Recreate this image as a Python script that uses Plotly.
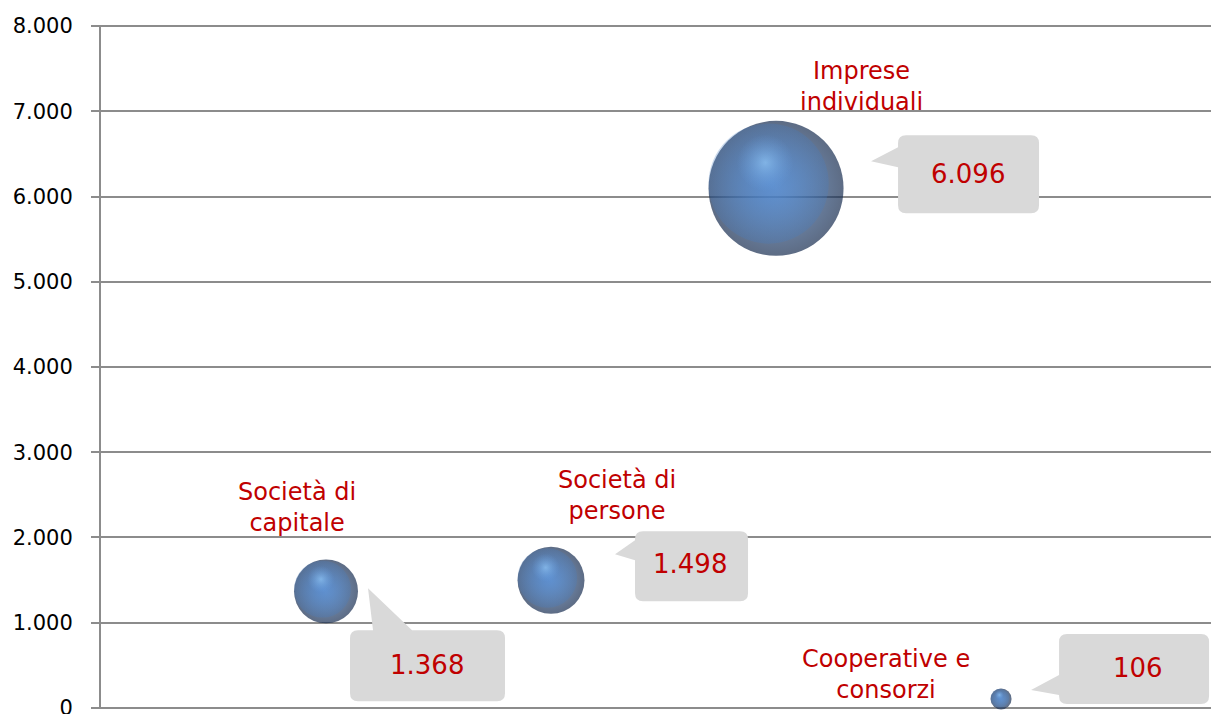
import plotly.graph_objects as go

# ---------------- data ----------------
categories = ["Società di capitale", "Società di persone", "Imprese individuali", "Cooperative e consorzi"]
name_labels = ["Società di<br>capitale", "Società di<br>persone", "Imprese<br>individuali", "Cooperative e<br>consorzi"]
x_pos = [1, 2, 3, 4]
values = [1368, 1498, 6096, 106]
y_ticks = [0, 1000, 2000, 3000, 4000, 5000, 6000, 7000, 8000]

# ---------------- layout constants ----------------
W, H = 1211, 714
ML, MR, MT, MB = 101, 0, 25, 5
X_RANGE = [0, 4.933]
Y_RANGE = [-12, 8012]
PX_X = (W - ML - MR) / (X_RANGE[1] - X_RANGE[0])
PX_Y = (H - MT - MB) / (Y_RANGE[1] - Y_RANGE[0])

RED = "#C00000"
GRID = "#8C8C8C"
BOX = "#D9D9D9"

# label placements (screen px offsets from each bubble, y downward)
name_off = [(-29, -84), (66, -85), (85, -102), (-115, -24)]
value_off = [(101, 74), (139, -16), (192, -14), (137, -31)]
# callout boxes: (x0, x1, y0, y1), tip, side, base range
callouts = [
    ((24, 179, 39, 110), (42, -3), "top", (47, 86)),
    ((84, 197, -49, 21), (64, -26), "left", (-40, -20)),
    ((122, 263, -53, 25), (95, -27), "left", (-41, -21)),
    ((58, 208, -65, 5), (30, -9), "left", (-24, -4)),
]

vmax = max(values)
diam = [max(21, 135 * (v / vmax) ** 0.5) for v in values]


def fmt(v):
    return f"{v:,}".replace(",", ".")


def callout_path(box, tip, side, base, r=8):
    x0, x1, y0, y1 = box

    def P(x, y):
        return f"{x},{-y}"

    s = f"M{P(x0 + r, y0)}"
    if side == "top":
        s += f" L{P(base[0], y0)} L{P(tip[0], tip[1])} L{P(base[1], y0)}"
    s += f" L{P(x1 - r, y0)} Q{P(x1, y0)} {P(x1, y0 + r)}"
    s += f" L{P(x1, y1 - r)} Q{P(x1, y1)} {P(x1 - r, y1)}"
    s += f" L{P(x0 + r, y1)} Q{P(x0, y1)} {P(x0, y1 - r)}"
    if side == "left":
        s += f" L{P(x0, base[1])} L{P(tip[0], tip[1])} L{P(x0, base[0])}"
    s += f" L{P(x0, y0 + r)} Q{P(x0, y0)} {P(x0 + r, y0)} Z"
    return s


def shifted(fx, fy):
    xs = [x + fx * d / PX_X for x, d in zip(x_pos, diam)]
    ys = [v - fy * d / PX_Y for v, d in zip(values, diam)]
    return xs, ys


fig = go.Figure()

# dark rim layer
fig.add_trace(go.Scatter(
    x=x_pos, y=values, mode="markers", cliponaxis=False, hoverinfo="skip",
    text=categories,
    marker=dict(size=diam, sizemode="diameter", color="#182D50",
                gradient=dict(type="radial", color="#4578BA"),
                line=dict(width=0)),
    showlegend=False,
))
# main body, shifted up-left so the rim darkens right / bottom
bx, by = shifted(-0.055, -0.035)
fig.add_trace(go.Scatter(
    x=bx, y=by, mode="markers", cliponaxis=False, hoverinfo="skip",
    marker=dict(size=[0.89 * d for d in diam], color="rgba(70,124,192,0.4)",
                gradient=dict(type="radial", color="rgba(80,136,208,1)"),
                line=dict(width=0)),
    showlegend=False,
))
# highlight
hx, hy = shifted(-0.08, -0.19)
fig.add_trace(go.Scatter(
    x=hx, y=hy, mode="markers", cliponaxis=False, hoverinfo="skip",
    marker=dict(size=[0.42 * d for d in diam], color="rgba(110,165,230,0)",
                gradient=dict(type="radial", color="rgba(150,205,252,0.9)"),
                line=dict(width=0)),
    showlegend=False,
))

shapes = []
annotations = []
for i in range(len(values)):
    box, tip, side, base = callouts[i]
    shapes.append(dict(
        type="path", xref="x", yref="y", xsizemode="pixel", ysizemode="pixel",
        xanchor=x_pos[i], yanchor=values[i],
        path=callout_path(box, tip, side, base),
        fillcolor=BOX, line=dict(width=0), layer="above",
    ))
    annotations.append(dict(
        x=x_pos[i], y=values[i], xref="x", yref="y", showarrow=False,
        text=fmt(values[i]), xanchor="center", yanchor="middle",
        xshift=value_off[i][0], yshift=-value_off[i][1],
        font=dict(family="DejaVu Sans", size=26, color=RED),
    ))
    annotations.append(dict(
        x=x_pos[i], y=values[i], xref="x", yref="y", showarrow=False,
        text=name_labels[i], xanchor="center", yanchor="middle", align="center",
        xshift=name_off[i][0], yshift=-name_off[i][1],
        font=dict(family="DejaVu Sans", size=24, color=RED),
    ))

fig.update_layout(
    width=W, height=H,
    margin=dict(l=ML, r=MR, t=MT, b=MB, pad=0, autoexpand=False),
    paper_bgcolor="white", plot_bgcolor="white",
    separators=",.",
    shapes=shapes, annotations=annotations,
    xaxis=dict(range=X_RANGE, visible=False, showgrid=False, zeroline=False),
    yaxis=dict(
        range=Y_RANGE, tickvals=y_ticks, tickformat=",.0f", automargin=False,
        showgrid=True, gridcolor=GRID, gridwidth=2,
        zeroline=True, zerolinecolor=GRID, zerolinewidth=2,
        showline=True, linecolor=GRID, linewidth=2,
        ticks="outside", ticklen=8, tickwidth=2, tickcolor=GRID,
        ticklabelstandoff=14, ticklabeloverflow="allow",
        tickfont=dict(family="DejaVu Sans", size=21, color="black"),
    ),
    font=dict(family="DejaVu Sans"),
)

fig.write_html(
    "out.html",
    config={"displayModeBar": False},
    post_script="document.body.style.margin='0';document.body.style.overflow='hidden';",
)
